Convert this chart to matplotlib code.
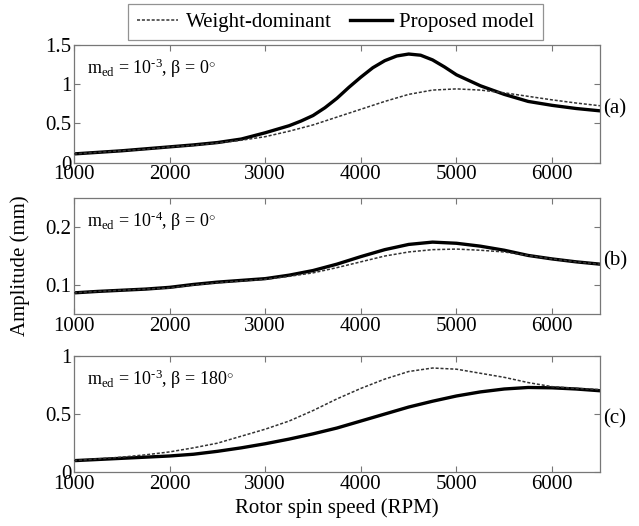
import matplotlib
matplotlib.use("Agg")
import matplotlib.pyplot as plt

plt.rcParams['font.family'] = ['Liberation Serif', 'DejaVu Serif']
plt.rcParams['mathtext.fontset'] = 'custom'
plt.rcParams['mathtext.rm'] = 'Liberation Serif'
plt.rcParams['mathtext.it'] = 'Liberation Serif:italic'

# rotor spin speed (RPM)
speed = [1000, 1250, 1500, 1750, 2000, 2250, 2500, 2750, 3000, 3250, 3500, 3750,
         4000, 4250, 4500, 4750, 5000, 5250, 5500, 5750, 6000, 6250, 6500]
speed_a_prop = [1000, 1250, 1500, 1750, 2000, 2250, 2500, 2750, 3000, 3250, 3375, 3500,
                3625, 3750, 3875, 4000, 4125, 4250, 4375, 4500, 4625, 4750, 4875, 5000,
                5250, 5500, 5750, 6000, 6250, 6500]

# (a) m_ed = 1e-3, beta = 0
a_weight = [0.11, 0.13, 0.15, 0.17, 0.20, 0.22, 0.25, 0.285, 0.33, 0.40, 0.48, 0.58,
            0.68, 0.78, 0.87, 0.925, 0.94, 0.925, 0.89, 0.845, 0.80, 0.76, 0.725]
a_prop = [0.11, 0.13, 0.15, 0.175, 0.20, 0.225, 0.255, 0.30, 0.38, 0.47, 0.53, 0.60,
          0.70, 0.82, 0.96, 1.09, 1.21, 1.30, 1.36, 1.385, 1.37, 1.31, 1.22, 1.12,
          0.98, 0.87, 0.78, 0.73, 0.69, 0.66]

# (b) m_ed = 1e-4, beta = 0
b_weight = [0.0865, 0.089, 0.091, 0.093, 0.095, 0.100, 0.104, 0.107, 0.110, 0.115, 0.121, 0.130,
            0.140, 0.150, 0.157, 0.161, 0.162, 0.160, 0.157, 0.151, 0.145, 0.140, 0.136]
b_prop = [0.0865, 0.089, 0.091, 0.093, 0.096, 0.101, 0.105, 0.108, 0.111, 0.117, 0.125, 0.136,
          0.149, 0.161, 0.170, 0.174, 0.172, 0.167, 0.160, 0.151, 0.145, 0.140, 0.136]

# (c) m_ed = 1e-3, beta = 180
c_weight = [0.10, 0.115, 0.13, 0.15, 0.175, 0.21, 0.25, 0.31, 0.37, 0.44, 0.53, 0.63,
            0.72, 0.80, 0.865, 0.895, 0.885, 0.85, 0.815, 0.77, 0.735, 0.72, 0.71]
c_prop = [0.10, 0.11, 0.12, 0.13, 0.14, 0.155, 0.18, 0.21, 0.245, 0.285, 0.33, 0.38,
          0.44, 0.50, 0.56, 0.61, 0.655, 0.69, 0.715, 0.728, 0.725, 0.715, 0.70]

panels = [
    (speed, a_weight, speed_a_prop, a_prop, (0, 1.5), [0, 0.5, 1, 1.5], ['0', '0.5', '1', '1.5'],
     r'm$_{\mathrm{ed}}$ = 10$^{\text{-3}}$, β = 0$^{\circ}$', '(a)'),
    (speed, b_weight, speed, b_prop, (0.05, 0.25), [0.1, 0.2], ['0.1', '0.2'],
     r'm$_{\mathrm{ed}}$ = 10$^{\text{-4}}$, β = 0$^{\circ}$', '(b)'),
    (speed, c_weight, speed, c_prop, (0, 1), [0, 0.5, 1], ['0', '0.5', '1'],
     r'm$_{\mathrm{ed}}$ = 10$^{\text{-3}}$, β = 180$^{\circ}$', '(c)'),
]

# axes rectangles in figure fraction
rects = [
    [0.1158, 0.691, 0.823, 0.2234],
    [0.1158, 0.403, 0.823, 0.2205],
    [0.1158, 0.1021, 0.823, 0.2215],
]

fig = plt.figure(figsize=(6.39, 5.26), dpi=100)
frame_color = '#777777'
fs = 15

for rect, (xw, yw, xp, yp, ylim, yt, ytl, note, tag) in zip(rects, panels):
    ax = fig.add_axes(rect)
    lw_dash, = ax.plot(xw, yw, linestyle=(0, (2.0, 1.2)), color='#333333', linewidth=1.1,
                       label='Weight-dominant', zorder=3)
    lp, = ax.plot(xp, yp, color='black', linewidth=2.4, label='Proposed model', zorder=2)
    ax.set_xlim(1000, 6500)
    ax.set_ylim(*ylim)
    ax.set_xticks([1000, 2000, 3000, 4000, 5000, 6000])
    ax.set_yticks(yt)
    ax.set_yticklabels(ytl)
    ax.tick_params(direction='in', top=True, right=True, length=4, width=0.8,
                   color=frame_color, labelsize=fs, pad=2)
    for sp in ax.spines.values():
        sp.set_color(frame_color)
        sp.set_linewidth(0.9)
    ax.text(0.025, 0.75, note, transform=ax.transAxes, fontsize=13, va='baseline', ha='left')
    ax.text(1.006, 0.46, tag, transform=ax.transAxes, fontsize=fs, va='center', ha='left')
    last_ax = ax

last_ax.set_xlabel('Rotor spin speed (RPM)', fontsize=fs, labelpad=3)
fig.text(0.031, 0.495, 'Amplitude (mm)', rotation=90, fontsize=fs, va='center', ha='center')

leg = fig.legend(handles=[lw_dash, lp], loc='center', bbox_to_anchor=(0.525, 0.958),
                 ncol=2, fontsize=fs, frameon=True, fancybox=False, handlelength=2.0,
                 handletextpad=0.35, columnspacing=0.9, borderpad=0.4)
leg.get_frame().set_edgecolor(frame_color)
leg.get_frame().set_linewidth(0.9)

fig.savefig('out.png', dpi=100)
